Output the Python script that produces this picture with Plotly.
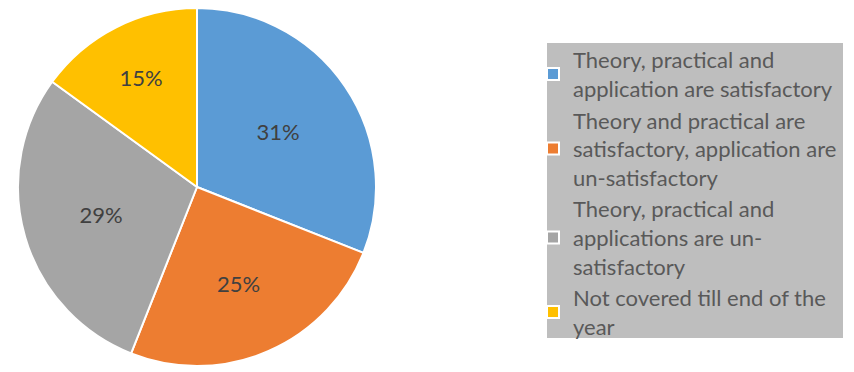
import plotly.graph_objects as go

# --- Data ---
labels = [
    "Theory, practical and<br>application are satisfactory",
    "Theory and practical are<br>satisfactory, application are<br>un-satisfactory",
    "Theory, practical and<br>applications are un-<br>satisfactory",
    "Not covered till end of the<br>year",
]
shares = [31, 25, 29, 15]
colors = ["#5B9BD5", "#ED7D31", "#A5A5A5", "#FFC000"]

W, H = 854, 372
OFF = 8  # page body margin shifts the figure by 8px


def px_x(p):
    return (p - OFF) / W


def px_y(p):
    return 1 - (p - OFF) / H


fig = go.Figure(
    go.Pie(
        labels=labels,
        values=shares,
        sort=False,
        direction="clockwise",
        rotation=0,
        marker=dict(colors=colors, line=dict(color="white", width=2)),
        textinfo="percent",
        texttemplate="%{percent:.0%}",
        textposition="inside",
        insidetextorientation="horizontal",
        textfont=dict(family="Lato, Roboto, sans-serif", size=22, color="#404040"),
        domain=dict(x=[px_x(18), px_x(376)], y=[px_y(366), 1]),
        hoverinfo="label+percent",
    )
)

# gray legend panel
fig.add_shape(
    type="rect", xref="paper", yref="paper",
    x0=px_x(547), x1=px_x(843), y0=px_y(338), y1=px_y(43),
    fillcolor="#BEBEBE", line=dict(width=0), layer="below",
)

fig.update_layout(
    width=W,
    height=H,
    margin=dict(l=0, r=0, t=0, b=0),
    paper_bgcolor="white",
    plot_bgcolor="white",
    showlegend=True,
    legend=dict(
        x=px_x(533),
        y=px_y(39),
        xanchor="left",
        yanchor="top",
        bgcolor="rgba(0,0,0,0)",
        font=dict(family="Lato, Roboto, sans-serif", size=22, color="#595959"),
        traceorder="normal",
        valign="middle",
    ),
)

fig.write_html("out.html")
